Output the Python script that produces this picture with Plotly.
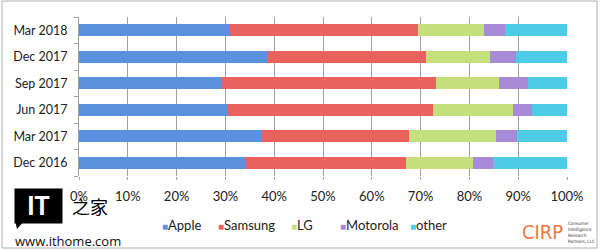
import plotly.graph_objects as go

periods = ["Dec 2016", "Mar 2017", "Jun 2017", "Sep 2017", "Dec 2017", "Mar 2018"]
apple = [34.0, 37.4, 30.5, 29.1, 38.8, 30.9]
samsung = [33.0, 30.2, 42.0, 44.1, 32.4, 38.5]
lg = [13.8, 17.9, 16.4, 12.9, 13.0, 13.6]
motorola = [4.1, 4.3, 3.9, 6.0, 5.3, 4.3]
other = [15.1, 10.2, 7.2, 7.9, 10.5, 12.7]
series_names = ["Apple", "Samsung", "LG", "Motorola", "other"]
series_values = [apple, samsung, lg, motorola, other]
colors = ["#5B90DE", "#E9625E", "#C4E07C", "#A78AD8", "#4ECBE7"]
x_ticks = [0, 10, 20, 30, 40, 50, 60, 70, 80, 90, 100]
x_tick_labels = [f"{v}%" for v in x_ticks]

W, H = 600, 250
L, R, T, B = 79, 33, 17, 74
pw, ph = W - L - R, H - T - B

def px(x):
    return (x - L) / pw

def py(y):
    return (H - B - y) / ph

fig = go.Figure()
for name, vals, c in zip(series_names, series_values, colors):
    fig.add_trace(go.Bar(y=periods, x=vals, name=name, orientation="h",
                         marker=dict(color=c, line=dict(width=0)), width=0.46,
                         showlegend=False))

font_main = "Lato, Open Sans, sans-serif"
fig.update_layout(
    barmode="stack",
    width=W, height=H,
    margin=dict(l=L, r=R, t=T, b=B),
    paper_bgcolor="white", plot_bgcolor="white",
    font=dict(family=font_main, size=13, color="#222"),
    xaxis=dict(range=[0, 100], tickvals=x_ticks, ticktext=x_tick_labels,
               showgrid=True, gridcolor="#a0a0a0", gridwidth=1,
               ticks="outside", ticklen=3, tickcolor="#a0a0a0",
               ticklabelstandoff=5,
               zeroline=False, showline=False, fixedrange=True,
               tickfont=dict(size=13, color="#222")),
    yaxis=dict(categoryorder="array", categoryarray=periods,
               tickson="boundaries", ticks="outside", ticklen=4,
               tickcolor="#a0a0a0", showline=True, linecolor="#a0a0a0",
               ticklabelstandoff=8,
               showgrid=False, range=[-0.5, 5.5], fixedrange=True,
               tickfont=dict(size=12.5, color="#222")),
)

def note(x, y, text, xanchor="center", yanchor="middle", **kw):
    fig.add_annotation(x=px(x), y=py(y), xref="paper", yref="paper",
                       xanchor=xanchor, yanchor=yanchor, showarrow=False,
                       text=text, **kw)

# Legend drawn as text annotations
legend_x = [160, 216, 289, 338, 408]
for name, c, lx in zip(series_names, colors, legend_x):
    note(lx, 225, f"<span style='color:{c};font-size:10px'>■</span>{name}",
         xanchor="left", font=dict(size=13, color="#222", family=font_main))

# Frame
fig.add_shape(type="rect", xref="paper", yref="paper",
              x0=px(2), x1=px(597), y0=py(248), y1=py(1),
              line=dict(color="#b0b0b0", width=1), layer="below")

# ithome watermark
fig.add_shape(type="path", xref="paper", yref="paper",
              path=f"M {px(15)},{py(220)} L {px(25)},{py(220)} L {px(17)},{py(229)} Z",
              fillcolor="black", line=dict(width=0))
note(38.5, 205.5, "<b>IT</b>", bgcolor="black", width=47, height=34, borderpad=0,
     font=dict(size=25, color="white", family="Roboto, Arial, sans-serif"))
note(90, 206, "之家", font=dict(size=18, color="black", family="Noto Sans CJK SC"))
note(13, 241, "www.ithome.com", xanchor="left",
     font=dict(size=13, color="#111", family="Open Sans"))

# CIRP logo
note(542, 232, "CIRP",
     font=dict(size=20, color="#E8793F", family="DejaVu Sans Condensed, Roboto, sans-serif"))
note(566, 232, "Consumer<br>Intelligence<br>Research<br>Partners, LLC",
     xanchor="left", align="left",
     font=dict(size=4.5, color="#333", family="DejaVu Sans Condensed, Roboto, sans-serif"))

fig.write_html("out.html")
